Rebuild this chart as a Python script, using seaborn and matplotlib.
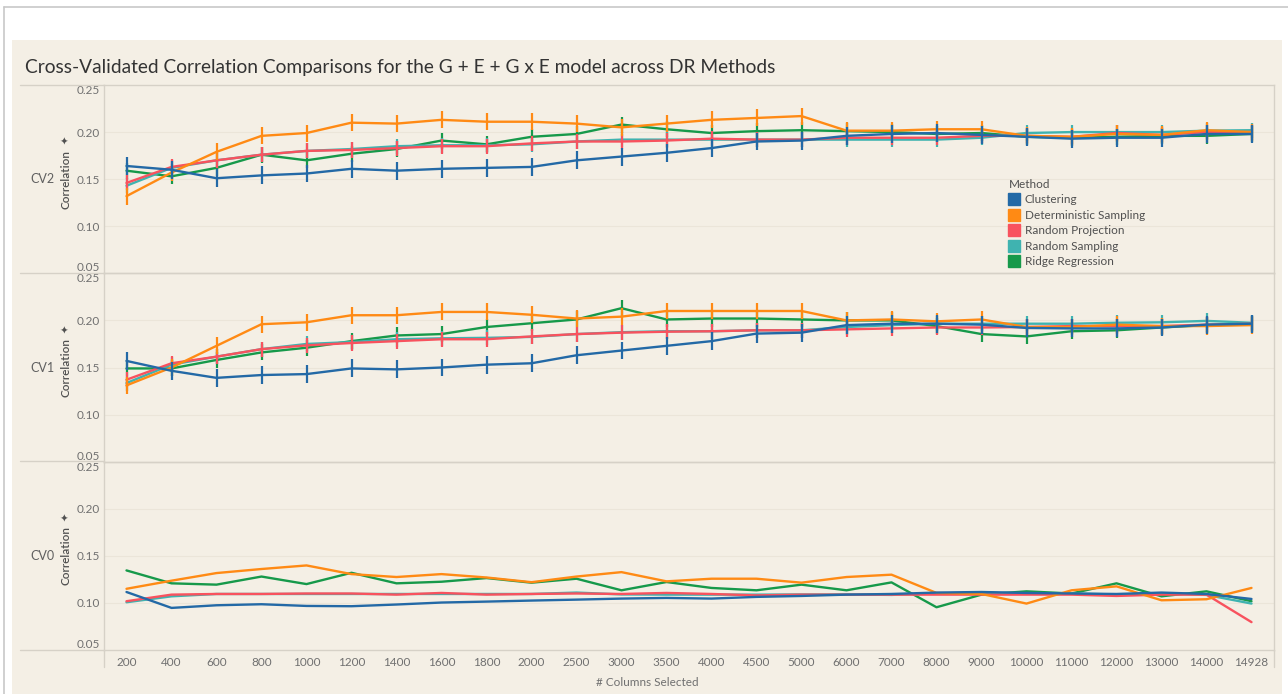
import pandas as pd
import matplotlib
matplotlib.use("Agg")
import matplotlib.pyplot as plt
from matplotlib.lines import Line2D
from matplotlib.patches import Rectangle
import seaborn as sns

# Columnas seleccionadas (eje x, categorico)
columnas = ["200", "400", "600", "800", "1000", "1200", "1400", "1600", "1800", "2000",
            "2500", "3000", "3500", "4000", "4500", "5000", "6000", "7000", "8000", "9000",
            "10000", "11000", "12000", "13000", "14000", "14928"]

metodos = ["Clustering", "Deterministic Sampling", "Random Projection",
           "Random Sampling", "Ridge Regression"]
colores = ["#2369a6", "#ff8a14", "#f8525e", "#3fb3b0", "#16994a"]

# CV2
cv2_clustering = [0.164, 0.160, 0.151, 0.154, 0.156, 0.161, 0.159, 0.161, 0.162, 0.163, 0.170, 0.174,
                  0.178, 0.183, 0.190, 0.191, 0.196, 0.198, 0.199, 0.197, 0.195, 0.193, 0.194, 0.194, 0.198, 0.198]
cv2_deterministic = [0.132, 0.157, 0.179, 0.196, 0.199, 0.210, 0.209, 0.213, 0.211, 0.211, 0.209, 0.205,
                     0.209, 0.213, 0.215, 0.217, 0.2015, 0.2015, 0.203, 0.203, 0.196, 0.195, 0.198, 0.197, 0.202, 0.200]
cv2_rand_proj = [0.146, 0.163, 0.170, 0.176, 0.180, 0.181, 0.183, 0.185, 0.185, 0.188, 0.190, 0.190,
                 0.191, 0.193, 0.192, 0.192, 0.194, 0.194, 0.194, 0.196, 0.196, 0.195, 0.199, 0.197, 0.200, 0.200]
cv2_rand_samp = [0.143, 0.162, 0.170, 0.176, 0.180, 0.182, 0.185, 0.186, 0.186, 0.187, 0.190, 0.192,
                 0.192, 0.192, 0.192, 0.192, 0.192, 0.192, 0.192, 0.194, 0.199, 0.200, 0.200, 0.200, 0.2015, 0.202]
cv2_ridge = [0.159, 0.153, 0.162, 0.176, 0.170, 0.177, 0.182, 0.191, 0.187, 0.195, 0.198, 0.208,
             0.203, 0.199, 0.201, 0.202, 0.201, 0.200, 0.198, 0.199, 0.195, 0.194, 0.195, 0.196, 0.196, 0.198]

# CV1
cv1_clustering = [0.157, 0.1465, 0.139, 0.142, 0.143, 0.149, 0.148, 0.150, 0.153, 0.1545, 0.163, 0.168,
                  0.173, 0.178, 0.186, 0.187, 0.195, 0.1965, 0.1965, 0.1955, 0.192, 0.1915, 0.1915, 0.1925, 0.1955, 0.1965]
cv1_deterministic = [0.131, 0.150, 0.173, 0.196, 0.198, 0.2055, 0.2055, 0.209, 0.209, 0.206, 0.202, 0.204,
                     0.210, 0.210, 0.210, 0.210, 0.200, 0.201, 0.199, 0.201, 0.193, 0.193, 0.1955, 0.194, 0.194, 0.195]
cv1_rand_proj = [0.137, 0.1545, 0.1615, 0.1695, 0.1735, 0.176, 0.178, 0.180, 0.180, 0.183, 0.1855, 0.187,
                 0.188, 0.1885, 0.1895, 0.1895, 0.1905, 0.1915, 0.1925, 0.1925, 0.193, 0.194, 0.194, 0.194, 0.1955, 0.1965]
cv1_rand_samp = [0.1335, 0.153, 0.1615, 0.1695, 0.175, 0.177, 0.180, 0.181, 0.1815, 0.1825, 0.1855, 0.1875,
                 0.1885, 0.1885, 0.1895, 0.1895, 0.193, 0.195, 0.1965, 0.1965, 0.1965, 0.1965, 0.1975, 0.198, 0.1995, 0.1975]
cv1_ridge = [0.149, 0.149, 0.158, 0.166, 0.171, 0.178, 0.184, 0.1855, 0.193, 0.197, 0.201, 0.213,
             0.201, 0.202, 0.202, 0.201, 0.200, 0.200, 0.194, 0.1855, 0.183, 0.1885, 0.1895, 0.1925, 0.195, 0.1965]

# CV0
cv0_clustering = [0.1116, 0.0947, 0.0975, 0.0986, 0.0968, 0.0965, 0.0983, 0.1004, 0.1014, 0.1025, 0.1035, 0.1046,
                  0.1053, 0.1046, 0.1064, 0.1074, 0.1088, 0.1095, 0.111, 0.1116, 0.1106, 0.110, 0.1095, 0.111, 0.1095, 0.1042]
cv0_deterministic = [0.115, 0.1236, 0.1317, 0.136, 0.1398, 0.1306, 0.1275, 0.1306, 0.127, 0.122, 0.128, 0.1327,
                     0.1229, 0.1257, 0.1257, 0.1215, 0.1275, 0.130, 0.1106, 0.1095, 0.0993, 0.1134, 0.1176, 0.1028, 0.1039, 0.1159]
cv0_rand_proj = [0.1018, 0.1088, 0.1095, 0.1095, 0.110, 0.110, 0.1088, 0.1106, 0.1088, 0.1095, 0.110, 0.1095,
                 0.1106, 0.1095, 0.108, 0.1088, 0.1088, 0.1088, 0.1088, 0.1088, 0.1088, 0.1088, 0.1074, 0.1088, 0.1088, 0.0796]
cv0_rand_samp = [0.1007, 0.107, 0.1095, 0.1095, 0.1095, 0.1095, 0.1095, 0.1095, 0.1095, 0.1095, 0.111, 0.109,
                 0.1088, 0.1088, 0.1088, 0.109, 0.109, 0.1085, 0.110, 0.111, 0.110, 0.110, 0.109, 0.110, 0.1085, 0.0993]
cv0_ridge = [0.1345, 0.1208, 0.1194, 0.128, 0.120, 0.132, 0.1208, 0.1225, 0.1264, 0.1215, 0.1257, 0.1134,
             0.1222, 0.1159, 0.1134, 0.1194, 0.1134, 0.1218, 0.0954, 0.1088, 0.1123, 0.110, 0.1208, 0.107, 0.1123, 0.1018]

# Semiamplitud de las barras de error por metodo (CV0 no tiene)
err_cv2 = [0.0095, 0.009, 0.008, 0.008, 0.0085]
err_cv1 = [0.0095, 0.009, 0.008, 0.008, 0.0085]

paneles = {
    "CV2": ([cv2_clustering, cv2_deterministic, cv2_rand_proj, cv2_rand_samp, cv2_ridge], err_cv2),
    "CV1": ([cv1_clustering, cv1_deterministic, cv1_rand_proj, cv1_rand_samp, cv1_ridge], err_cv1),
    "CV0": ([cv0_clustering, cv0_deterministic, cv0_rand_proj, cv0_rand_samp, cv0_ridge], None),
}

# Tabla larga
filas = []
for panel, (series, errores) in paneles.items():
    for k, metodo in enumerate(metodos):
        for i, valor in enumerate(series[k]):
            filas.append({"CV": panel, "Method": metodo, "pos": i, "corr": valor,
                          "err": errores[k] if errores else 0.0})
df = pd.DataFrame(filas)

paleta = dict(zip(metodos, colores))
orden_dibujo = ["Ridge Regression", "Random Sampling", "Random Projection",
                "Deterministic Sampling", "Clustering"]

sns.set_style("white")
plt.rcParams["font.family"] = ["Lato", "DejaVu Sans"]

FONDO = "#f4efe5"
LINEA = "#d6d1c7"
W, H = 1288, 694

fig = plt.figure(figsize=(W / 100, H / 100), dpi=100, facecolor="white")
fig.add_artist(Rectangle((12 / W, 0), (1282 - 12) / W, (H - 40) / H,
                         transform=fig.transFigure, facecolor=FONDO, edgecolor="none", zorder=0))
fig.add_artist(Line2D([4 / W, 1], [1 - 7 / H] * 2, color="#c8c8c8", lw=1.2))
fig.add_artist(Line2D([4 / W] * 2, [0, 1 - 7 / H], color="#c8c8c8", lw=1.2))

axes = fig.subplots(3, 1, sharex=True, gridspec_kw=dict(hspace=0))
fig.subplots_adjust(left=104 / W, right=1274 / W, top=1 - 85 / H, bottom=1 - 650 / H)

for ax, panel in zip(axes, ["CV2", "CV1", "CV0"]):
    ax.set_facecolor("none")
    datos = df[df["CV"] == panel]
    for metodo in orden_dibujo:
        d = datos[datos["Method"] == metodo]
        sns.lineplot(data=d, x="pos", y="corr", color=paleta[metodo], linewidth=1.7,
                     errorbar=None, legend=False, ax=ax)
        if paneles[panel][1] is not None:
            ax.vlines(d["pos"], d["corr"] - d["err"], d["corr"] + d["err"],
                      color=paleta[metodo], lw=1.6)
    ax.set_xlim(-0.5, len(columnas) - 0.5)
    ax.set_ylim(0.05, 0.25)
    ticks = [0.05, 0.10, 0.15, 0.20, 0.25]
    ax.set_yticks(ticks, [f"{t:.2f}" for t in ticks])
    etiquetas = ax.get_yticklabels()
    etiquetas[0].set_va("bottom")
    etiquetas[-1].set_va("top")
    ax.tick_params(axis="y", length=0, pad=3, labelsize=8.5, labelcolor="#707070")
    for t in [0.10, 0.15, 0.20]:
        ax.axhline(t, color="#ebe5d9", lw=0.8, zorder=0)
    ax.set_xlabel("")
    ax.set_ylabel("")
    for lado in ["top", "right", "left", "bottom"]:
        ax.spines[lado].set_color(LINEA)
        ax.spines[lado].set_linewidth(1.0)
    # etiquetas de fila
    y_centro = fig.transFigure.inverted().transform(ax.transData.transform((0, 0.15)))[1]
    fig.text(42 / W, y_centro, panel, ha="center", va="center", fontsize=9, color="#606060")
    fig.text(66 / W, y_centro, "Correlation", rotation=90, ha="center", va="center",
             fontsize=8.5, color="#505050", fontweight="semibold")
    fig.text(66 / W, y_centro + 39 / H, "✦", rotation=90, ha="center", va="center",
             fontsize=7, color="#505050", family=["DejaVu Sans"])

axes[-1].set_xticks(range(len(columnas)), columnas)
axes[-1].tick_params(axis="x", length=0, pad=5, labelsize=8.5, labelcolor="#707070")

# lineas separadoras que se extienden a la zona de etiquetas
for ypx in [85, 273, 461, 650]:
    fig.add_artist(Line2D([20 / W, 104 / W], [1 - ypx / H] * 2, color=LINEA, lw=1.0))
fig.add_artist(Line2D([104 / W] * 2, [1 - 667 / H, 1 - 650 / H], color=LINEA, lw=1.0))
fig.add_artist(Line2D([1274 / W] * 2, [1 - 667 / H, 1 - 650 / H], color=LINEA, lw=1.0))

fig.text(25 / W, 1 - 67 / H, "Cross-Validated Correlation Comparisons for the G + E + G x E model across DR Methods",
         ha="left", va="center", fontsize=13.8, color="#333333")
fig.text(647 / W, 1 - 683 / H, "# Columns Selected", ha="center", va="center",
         fontsize=8.5, color="#707070")

# leyenda
manijas = [Line2D([], [], marker="s", linestyle="none", markersize=8, color=c) for c in colores]
leg = axes[0].legend(manijas, metodos, title="Method", loc="upper left",
                     bbox_to_anchor=(1003 / W, 1 - 173 / H), bbox_transform=fig.transFigure,
                     frameon=False, fontsize=8.5, title_fontsize=8.5, labelspacing=0.38,
                     handletextpad=0.55, handlelength=0.8, borderpad=0, alignment="left")
for txt in leg.get_texts():
    txt.set_color("#505050")
leg.get_title().set_color("#505050")

fig.savefig("out.png", dpi=100, facecolor="white")
